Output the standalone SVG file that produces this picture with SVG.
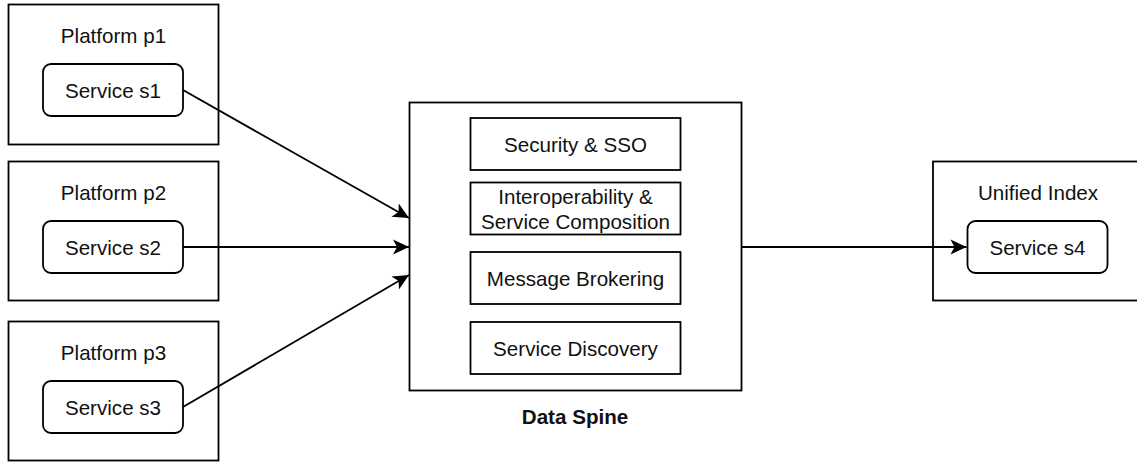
<svg xmlns="http://www.w3.org/2000/svg" width="1137" height="462" viewBox="0 0 1137 462">
<style>
.box{fill:#fff;stroke:#000;stroke-width:1.8}
.t{font-family:"Liberation Sans",Arial,sans-serif;font-size:20.6px;fill:#111;text-anchor:middle}
.b{font-weight:bold}
.c{fill:none;stroke:#000;stroke-width:1.8}
</style>
<defs>
<marker id="arr" viewBox="-17 -9 18 18" markerWidth="18" markerHeight="18" refX="0" refY="0" orient="auto" markerUnits="userSpaceOnUse">
<path d="M0,0 L-16,-7.5 L-12,0 L-16,7.5 Z" fill="#000"/>
</marker>
</defs>
<rect width="1137" height="462" fill="#fff"/>
<g id="platform-p1">
<rect class="box" x="8.5" y="4.5" width="210" height="140"/>
<text class="t" x="113.5" y="43">Platform p1</text>
</g>
<g id="service-s1">
<rect class="box" x="43" y="64" width="140" height="52" rx="8"/>
<text class="t" x="113" y="97.5">Service s1</text>
</g>
<g id="platform-p2">
<rect class="box" x="8.5" y="161.5" width="210" height="139"/>
<text class="t" x="113.5" y="199.5">Platform p2</text>
</g>
<g id="service-s2">
<rect class="box" x="43" y="221" width="140" height="52" rx="8"/>
<text class="t" x="113" y="254.5">Service s2</text>
</g>
<g id="platform-p3">
<rect class="box" x="8.5" y="321.5" width="210" height="139"/>
<text class="t" x="113.5" y="359.5">Platform p3</text>
</g>
<g id="service-s3">
<rect class="box" x="43" y="381" width="140" height="52" rx="8"/>
<text class="t" x="113" y="414.5">Service s3</text>
</g>
<g id="data-spine">
<rect class="box" x="409.5" y="102.5" width="332" height="288"/>
<text class="t b" x="575" y="424">Data Spine</text>
</g>
<g id="security-sso">
<rect class="box" x="470.5" y="118" width="210" height="52"/>
<text class="t" x="575.5" y="151.5">Security &amp; SSO</text>
</g>
<g id="interoperability">
<rect class="box" x="470.5" y="182.5" width="210" height="52"/>
<text class="t" x="575.5" y="204">Interoperability &amp;</text>
<text class="t" x="575.5" y="228.5">Service Composition</text>
</g>
<g id="message-brokering">
<rect class="box" x="470.5" y="252" width="210" height="52"/>
<text class="t" x="575.5" y="285.5">Message Brokering</text>
</g>
<g id="service-discovery">
<rect class="box" x="470.5" y="322" width="210" height="52"/>
<text class="t" x="575.5" y="355.5">Service Discovery</text>
</g>
<g id="unified-index">
<rect class="box" x="933" y="161.5" width="212" height="139"/>
<text class="t" x="1038" y="199.5">Unified Index</text>
</g>
<g id="service-s4">
<rect class="box" x="967.5" y="221" width="140" height="52" rx="8"/>
<text class="t" x="1037.5" y="254.5">Service s4</text>
</g>
<g id="connectors">
<path class="c" d="M183,90 L409,218" marker-end="url(#arr)"/>
<path class="c" d="M183,247 L409,247" marker-end="url(#arr)"/>
<path class="c" d="M183,407 L409,275" marker-end="url(#arr)"/>
<path class="c" d="M741.5,247 L966.5,247" marker-end="url(#arr)"/>
</g>
</svg>
